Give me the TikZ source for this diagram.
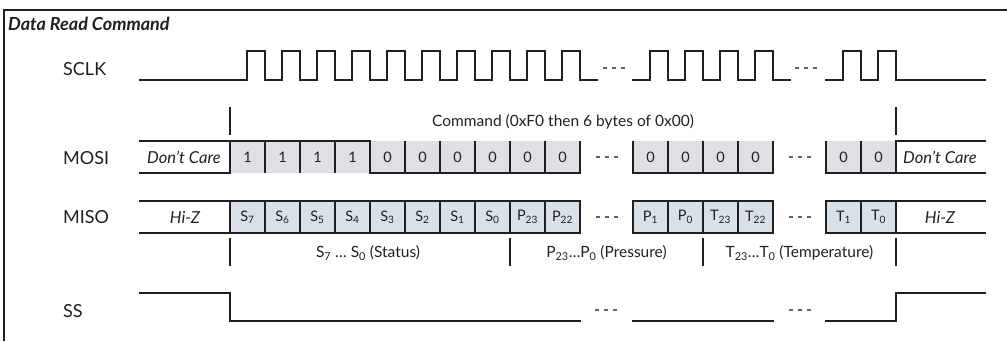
\documentclass[tikz,border=0pt]{standalone}
\usepackage{fontspec}
\setmainfont{Lato}
\definecolor{ink}{RGB}{35,31,32}
\definecolor{mosifill}{RGB}{223,223,230}
\definecolor{misofill}{RGB}{216,225,234}
\newcommand{\mysb}[1]{\textsubscript{#1}}
\tikzset{
  wave/.style={line width=2.6pt, ink, line join=miter, line cap=rect},
  cellsep/.style={line width=2pt, ink},
  tickmark/.style={line width=1.8pt, ink},
  gapdash/.style={line width=1.1pt, ink!70, dash pattern=on 4pt off 5pt},
  sig/.style={font=\fontsize{18}{20}\selectfont, anchor=west, text=ink, inner sep=0pt},
  celltxt/.style={font=\fontsize{14.5}{16}\selectfont, text=ink, inner sep=0pt},
  itx/.style={font=\itshape\fontsize{16.5}{18}\selectfont, text=ink, inner sep=0pt},
  grp/.style={font=\fontsize{15.5}{17}\selectfont, text=ink, inner sep=0pt},
}
\begin{document}
\begin{tikzpicture}[x=1pt,y=-1pt]
\useasboundingbox (0,0) rectangle (1007,341);
% frame
\draw[line width=1.6pt, ink] (1007,10) -- (4,10) -- (4,341);
\node[anchor=west, inner sep=0pt, text=ink, font=\bfseries\itshape\fontsize{18}{20}\selectfont] (title) at (8,24) {Data Read Command};

% signal names
\node[sig] (sclk) at (63,69) {SCLK};
\node[sig] (mosi) at (63,158) {MOSI};
\node[sig] (miso) at (63,217) {MISO};
\node[sig] (ss) at (63,311) {SS};

% ---------------- SCLK ----------------
\draw[wave] (140,80) -- (247,80)
  foreach \k in {1,...,10} { -- ++(0,-29) -- ++(18,0) -- ++(0,29) -- ++(17,0) };
\draw[wave] (633,80) -- (650,80)
  foreach \k in {1,...,4} { -- ++(0,-29) -- ++(18,0) -- ++(0,29) -- ++(17,0) };
\draw[wave] (826,80) -- (843,80)
  foreach \k in {1,2} { -- ++(0,-29) -- ++(18,0) -- ++(0,29) -- ++(17,0) } -- (985,80);
\draw[gapdash] (603,68) -- (625,68);
\draw[gapdash] (795,68) -- (817,68);

% command bracket
\draw[tickmark] (230,107) -- (230,135);
\draw[tickmark] (896,107) -- (896,135);
\node[grp] (cmd) at (563,122) {Command (0xF0 then 6 bytes of 0x00)};

% ---------------- MOSI ----------------
\fill[mosifill] (230,141) rectangle (580,173);
\fill[mosifill] (633,141) rectangle (773,173);
\fill[mosifill] (826,141) rectangle (896,173);
\draw[wave] (140,141) -- (370,141);
\draw[wave] (140,173) -- (230,173);
\draw[wave] (370,173) -- (580,173);
\draw[wave] (633,173) -- (773,173);
\draw[wave] (826,173) -- (896,173);
\draw[wave] (896,141) -- (985,141);
\draw[wave] (896,173) -- (985,173);
\foreach \x in {230,265,...,580} \draw[cellsep] (\x,141) -- (\x,173);
\foreach \x in {633,668,...,773} \draw[cellsep] (\x,141) -- (\x,173);
\foreach \x in {826,861,896} \draw[cellsep] (\x,141) -- (\x,173);
\node[itx] (mosidc1) at (184,157) {Don't Care};
\node[itx] (mosidc2) at (940,157) {Don't Care};
\foreach \t [count=\i from 0] in {1,1,1,1,0,0,0,0,0,0}
  \node[celltxt] (moa\i) at ({247.5+35*\i},157) {\t};
\foreach \t [count=\i from 0] in {0,0,0,0}
  \node[celltxt] (mob\i) at ({650.5+35*\i},157) {\t};
\foreach \t [count=\i from 0] in {0,0}
  \node[celltxt] (moc\i) at ({843.5+35*\i},157) {\t};
\draw[gapdash] (596,157) -- (618,157);
\draw[gapdash] (789,157) -- (811,157);

% ---------------- MISO ----------------
\fill[misofill] (230,201) rectangle (580,233);
\fill[misofill] (633,201) rectangle (773,233);
\fill[misofill] (826,201) rectangle (896,233);
\draw[wave] (140,201) -- (580,201);
\draw[wave] (140,233) -- (580,233);
\draw[wave] (633,201) -- (773,201);
\draw[wave] (633,233) -- (773,233);
\draw[wave] (826,201) -- (985,201);
\draw[wave] (826,233) -- (985,233);
\foreach \x in {230,265,...,580} \draw[cellsep] (\x,201) -- (\x,233);
\foreach \x in {633,668,...,773} \draw[cellsep] (\x,201) -- (\x,233);
\foreach \x in {826,861,896} \draw[cellsep] (\x,201) -- (\x,233);
\node[itx] (misohz1) at (185,217) {Hi-Z};
\node[itx] (misohz2) at (940,217) {Hi-Z};
\foreach \t [count=\i from 0] in {S\mysb{7},S\mysb{6},S\mysb{5},S\mysb{4},S\mysb{3},S\mysb{2},S\mysb{1},S\mysb{0},P\mysb{23},P\mysb{22}}
  \node[celltxt] (mia\i) at ({247.5+35*\i},217) {\t};
\foreach \t [count=\i from 0] in {P\mysb{1},P\mysb{0},T\mysb{23},T\mysb{22}}
  \node[celltxt] (mib\i) at ({650.5+35*\i},217) {\t};
\foreach \t [count=\i from 0] in {T\mysb{1},T\mysb{0}}
  \node[celltxt] (mic\i) at ({843.5+35*\i},217) {\t};
\draw[gapdash] (596,217) -- (618,217);
\draw[gapdash] (789,217) -- (811,217);

% field brackets
\foreach \x in {230,510,703,896} \draw[tickmark] (\x,238) -- (\x,266);
\node[grp] (stat) at (368,253) {S\mysb{7} … S\mysb{0} (Status)};
\node[grp] (pres) at (606.5,253) {P\mysb{23}…P\mysb{0} (Pressure)};
\node[grp] (temp) at (799.5,253) {T\mysb{23}…T\mysb{0} (Temperature)};

% ---------------- SS ----------------
\draw[wave] (140,293) -- (230,293) -- (230,321) -- (580,321);
\draw[wave] (633,321) -- (773,321);
\draw[wave] (826,321) -- (896,321) -- (896,293) -- (985,293);
\draw[gapdash] (595,310) -- (617,310);
\draw[gapdash] (789,310) -- (811,310);
\end{tikzpicture}
\end{document}
